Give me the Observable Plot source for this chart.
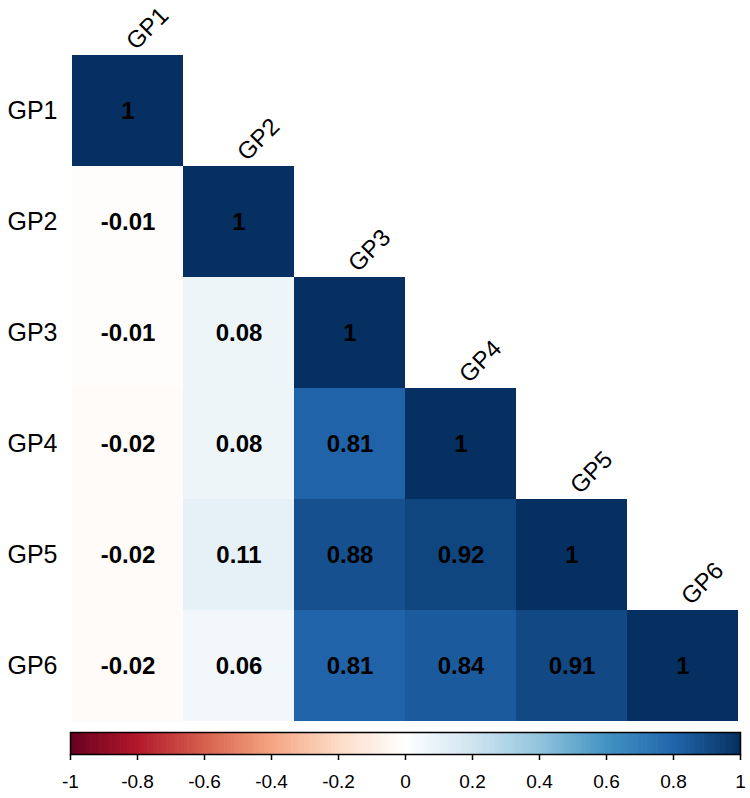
<!DOCTYPE html>
<html>
<head>
<meta charset="utf-8">
<script src="https://cdn.jsdelivr.net/npm/d3@7"></script>
<script src="https://cdn.jsdelivr.net/npm/@observablehq/plot@0.6"></script>
<style>
  html, body { margin: 0; padding: 0; background: #fff; }
  #chart { width: 750px; height: 798px; position: relative; }
  #chart svg { display: block; }
</style>
</head>
<body>
<div id="chart"></div>
<script>
// Variable names (rows and columns)
const vars = ["GP1", "GP2", "GP3", "GP4", "GP5", "GP6"];
// Lower-triangle correlation values, one row per variable
const rowGP1 = [1];
const rowGP2 = [-0.01, 1];
const rowGP3 = [-0.01, 0.08, 1];
const rowGP4 = [-0.02, 0.08, 0.81, 1];
const rowGP5 = [-0.02, 0.11, 0.88, 0.92, 1];
const rowGP6 = [-0.02, 0.06, 0.81, 0.84, 0.91, 1];
// Colour bar tick labels
const barTicks = [-1, -0.8, -0.6, -0.4, -0.2, 0, 0.2, 0.4, 0.6, 0.8, 1];
// RdBu palette (corrplot COL2)
const palette = ["#67001F", "#B2182B", "#D6604D", "#F4A582", "#FDDBC7", "#FFFFFF",
                 "#D1E5F0", "#92C5DE", "#4393C3", "#2166AC", "#053061"];

const rows = [rowGP1, rowGP2, rowGP3, rowGP4, rowGP5, rowGP6];
const cells = [];
rows.forEach((r, i) => r.forEach((v, j) => cells.push({row: vars[i], col: vars[j], value: v})));
const diag = vars.map(v => ({row: v, col: v}));

const colorScale = {
  type: "linear",
  domain: [-1, 1],
  interpolate: () => d3.piecewise(d3.interpolateRgb, palette)
};

const FONT = "Liberation Sans, Arial, sans-serif";

const main = Plot.plot({
  width: 750,
  height: 725,
  marginLeft: 70,
  marginRight: 10,
  marginTop: 52.5,
  marginBottom: 2.5,
  style: {fontFamily: FONT, background: "white"},
  x: {domain: vars, padding: 0, axis: null},
  y: {domain: vars, padding: 0, label: null},
  color: colorScale,
  marks: [
    Plot.cell(cells, {x: "col", y: "row", fill: "value", inset: 0}),
    Plot.text(cells, {
      x: "col", y: "row", text: d => String(d.value),
      fill: "black", fontWeight: "bold", fontSize: 24
    }),
    Plot.text(diag, {
      x: "col", y: "row", text: "col",
      dx: 8, dy: -60, rotate: -45,
      textAnchor: "start", lineAnchor: "bottom",
      fontSize: 24, fill: "black"
    }),
    Plot.axisY({tickSize: 0, tickPadding: 13, fontSize: 25, label: null, color: "black"})
  ]
});

const barBins = d3.range(0, 200).map(i => ({x1: -1 + i * 0.01, x2: -1 + (i + 1) * 0.01}));

const bar = Plot.plot({
  width: 750,
  height: 73,
  marginLeft: 70,
  marginRight: 10,
  marginTop: 7,
  marginBottom: 44,
  style: {fontFamily: FONT, background: "white"},
  x: {domain: [-1, 1]},
  y: {domain: [0, 1], axis: null},
  color: colorScale,
  marks: [
    Plot.rect(barBins, {x1: "x1", x2: d => d.x2 + 0.002, y1: 0, y2: 1, fill: d => (d.x1 + d.x2) / 2}),
    Plot.frame({stroke: "black", strokeWidth: 1.5}),
    Plot.axisX({
      ticks: barTicks, tickSize: 6, tickPadding: 14, fontSize: 19, label: null,
      tickFormat: d => String(+d.toFixed(1)), color: "black", strokeWidth: 1.5
    })
  ]
});

const chart = document.getElementById("chart");
chart.appendChild(main);
chart.appendChild(bar);
</script>
</body>
</html>
